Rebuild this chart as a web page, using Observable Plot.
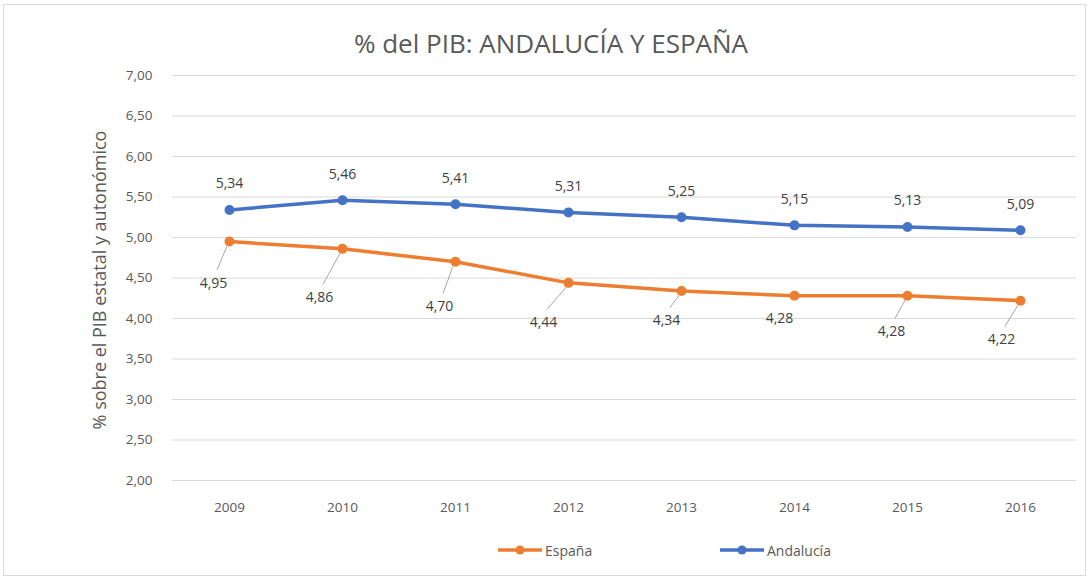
<!DOCTYPE html>
<html><head><meta charset="utf-8">
<script src="https://cdn.jsdelivr.net/npm/d3@7"></script>
<script src="https://cdn.jsdelivr.net/npm/@observablehq/plot@0.6"></script>
<style>
body{margin:0;background:#fff;font-family:"Open Sans",Lato,sans-serif;}
#frame{position:absolute;left:3px;top:4px;width:1083px;height:572px;border:1px solid #d9d9d9;box-sizing:border-box;}
#wrap{position:absolute;left:0;top:0;width:1092px;}
#title{height:62px;box-sizing:border-box;padding-top:27px;padding-left:10px;line-height:32px;font-size:26px;color:#595959;text-align:center;}
#legend{position:relative;height:60px;font-size:14px;color:#595959;}
.item{position:absolute;top:18px;display:flex;align-items:center;height:24px;}
.item svg{margin-right:3px;}
</style></head>
<body>
<div id="frame"></div>
<div id="wrap">
  <div id="title">% del PIB: ANDALUCÍA Y ESPAÑA</div>
  <div id="chart"></div>
  <div id="legend"></div>
</div>
<script>
const years = ["2009","2010","2011","2012","2013","2014","2015","2016"];
const andalucia = [5.34, 5.46, 5.41, 5.31, 5.25, 5.15, 5.13, 5.09];
const espana = [4.95, 4.86, 4.70, 4.44, 4.34, 4.28, 4.28, 4.22];
const yTicks = [2, 2.5, 3, 3.5, 4, 4.5, 5, 5.5, 6, 6.5, 7];
const seriesNames = ["España", "Andalucía"];
const seriesColors = ["#ED7D31", "#4472C4"];
// label placement (pixel offsets of the España data labels, as placed in the original)
const espLabelDx = [-16, -23, -16, -25, -15, -15, -16, -19];
const espLabelDy = [42, 49, 45, 40, 30, 23, 36, 39];

const fmt = v => v.toFixed(2).replace(".", ",");
const rows = [];
years.forEach((y, i) => {
  rows.push({year: y, value: espana[i], serie: seriesNames[0], i});
  rows.push({year: y, value: andalucia[i], serie: seriesNames[1], i});
});
const esp = rows.filter(d => d.serie === "España");
const and = rows.filter(d => d.serie === "Andalucía");

const leaders = (index, scales) => {
  const g = d3.create("svg:g").attr("stroke", "#a6a6a6").attr("stroke-width", 1);
  esp.forEach(d => {
    const dy = espLabelDy[d.i], dx = espLabelDx[d.i];
    if (dy < 28) return;
    const px = scales.x(d.year), py = scales.y(d.value);
    g.append("line")
      .attr("x1", px + dx + 4).attr("y1", py + dy - 13)
      .attr("x2", px - 2).attr("y2", py + 5);
  });
  return g.node();
};

const font = "'Open Sans', Lato, sans-serif";
const chart = Plot.plot({
  width: 1092,
  height: 458,
  marginTop: 13,
  marginBottom: 40,
  marginLeft: 172,
  marginRight: 16,
  style: {fontFamily: font, fontSize: "13.5px", color: "#595959", background: "transparent"},
  x: {type: "point", domain: years, padding: 0.5, label: null, tickSize: 0, tickPadding: 22},
  y: {domain: [2, 7], ticks: yTicks, tickFormat: fmt, tickSize: 0, tickPadding: 20, label: null},
  color: {domain: seriesNames, range: seriesColors},
  marks: [
    Plot.ruleY(yTicks, {stroke: "#d9d9d9", strokeWidth: 1}),
    Plot.text(["% sobre el PIB estatal y autonómico"], {frameAnchor: "left", textAnchor: "middle", rotate: -90, dx: -72, dy: 2,
      fill: "#595959", fontSize: 18, text: d => d}),
    leaders,
    Plot.line(rows, {x: "year", y: "value", z: "serie", stroke: "serie", strokeWidth: 3.5}),
    Plot.dot(rows, {x: "year", y: "value", fill: "serie", r: 5}),
    Plot.text(and, {x: "year", y: "value", text: d => fmt(d.value), dy: -26, fill: "#404040", fontSize: 14}),
    ...esp.map((d, k) => Plot.text([d], {x: "year", y: "value", text: r => fmt(r.value),
      dx: espLabelDx[k], dy: espLabelDy[k], fill: "#404040", fontSize: 14}))
  ]
});
document.getElementById("chart").appendChild(chart);

// legend
const legend = document.getElementById("legend");
const positions = [498, 720];
seriesNames.forEach((name, k) => {
  const item = document.createElement("div");
  item.className = "item";
  item.style.left = positions[k] + "px";
  item.innerHTML = `<svg width="44" height="12"><line x1="0" x2="44" y1="6" y2="6" stroke="${seriesColors[k]}" stroke-width="3.5"/><circle cx="22" cy="6" r="4.5" fill="${seriesColors[k]}"/></svg><span>${name}</span>`;
  legend.appendChild(item);
});
</script>
</body></html>
